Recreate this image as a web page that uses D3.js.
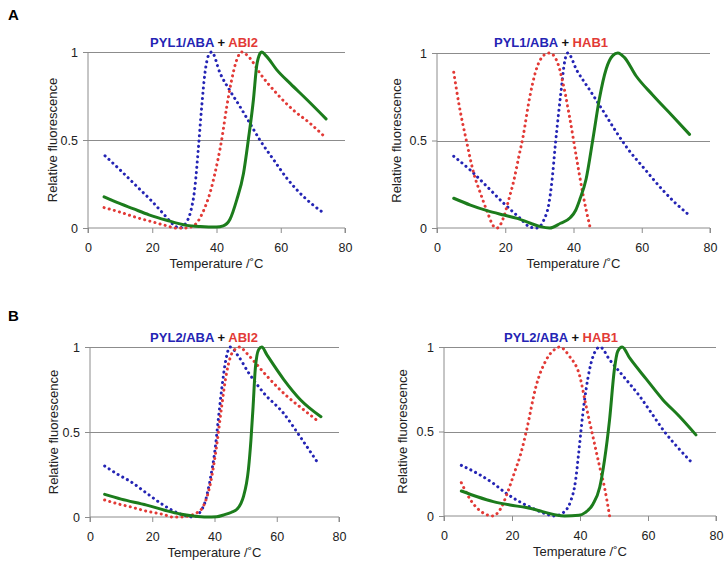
<!DOCTYPE html>
<html><head><meta charset="utf-8">
<script src="https://cdn.jsdelivr.net/npm/d3@7"></script>
<style>body{margin:0;background:#fff} svg text{font-family:"Liberation Sans",Arial,sans-serif}</style>
</head><body><svg id="c" width="726" height="564"></svg>
<script>
const xTicks = [0,20,40,60,80];
const yTicks = [0,0.5,1];
const yTickLabels = ["0","0.5","1"];
const xLabel = "Temperature /˚C";
const yLabel = "Relative fluorescence";

// Panel A left: PYL1/ABA + ABI2
const a1Blue = [[5.3,0.41],[10,0.33],[15,0.24],[20,0.15],[24,0.07],[26.5,0.02],[28.5,0],[30.5,0.03],[31.8,0.083],[33.3,0.235],[34.3,0.44],[35.4,0.69],[36.4,0.88],[37.5,0.98],[38.5,1.0],[41.1,0.88],[44.2,0.78],[47.3,0.69],[50.4,0.595],[53.5,0.5],[57.7,0.39],[61.8,0.285],[67,0.18],[70.1,0.13],[73.8,0.08]];
const a1Red = [[5,0.116],[10,0.09],[15,0.06],[20,0.035],[25,0.01],[27,0],[30.5,0],[32.5,0.01],[33.8,0.027],[35.5,0.08],[36.9,0.14],[38.3,0.22],[39.5,0.31],[41.6,0.5],[43.2,0.69],[44.7,0.84],[46.3,0.955],[47.8,1.0],[50.4,0.965],[53.5,0.88],[58.7,0.765],[63.9,0.67],[69.1,0.595],[73.6,0.52]];
const a1Green = [[5,0.177],[9,0.145],[14,0.11],[19,0.075],[24.5,0.044],[30.7,0.015],[35,0.008],[40,0.005],[42.1,0.012],[44.2,0.05],[46.3,0.16],[48.4,0.31],[49.9,0.5],[51.5,0.73],[52.5,0.92],[53.5,0.99],[54,1.0],[55.6,0.975],[58.7,0.9],[63,0.82],[68.1,0.73],[74.1,0.62]];

// Panel A right: PYL1/ABA + HAB1
const a2Blue = [[4.9,0.41],[9.8,0.33],[14.7,0.236],[19.6,0.14],[24.4,0.055],[27.4,0.004],[29.3,0],[31.3,0.046],[32.8,0.14],[33.7,0.27],[34.7,0.48],[35.6,0.65],[36.4,0.79],[37.4,0.95],[38.3,1.0],[41,0.9],[44.7,0.79],[48,0.69],[52.5,0.55],[56,0.45],[60.3,0.35],[66,0.22],[70,0.14],[73.5,0.08]];
const a2Red = [[4.9,0.89],[6.5,0.7],[8.6,0.5],[10.8,0.31],[12.7,0.2],[14.7,0.094],[16.6,0.01],[17.6,0],[19.6,0.065],[21,0.16],[22.5,0.27],[24,0.41],[25.2,0.52],[27.1,0.74],[29,0.9],[31.5,0.99],[33,1.0],[35,0.96],[36.9,0.83],[38.8,0.64],[40.8,0.41],[42.7,0.2],[44.9,0]];
const a2Green = [[4.9,0.17],[9.8,0.131],[14.7,0.099],[19.6,0.074],[23.5,0.055],[27.4,0.027],[30.3,0.008],[33,0],[36.2,0.027],[39.1,0.06],[40.6,0.1],[41.8,0.16],[43.7,0.28],[45.7,0.51],[47.6,0.74],[49.6,0.91],[51.5,0.985],[53,1.0],[54.9,0.975],[58.3,0.87],[63.2,0.76],[69,0.64],[74,0.535]];

// Panel B left: PYL2/ABA + ABI2
const b1Blue = [[4.7,0.30],[9,0.25],[12.9,0.21],[18.2,0.14],[23.6,0.07],[28.9,0.018],[33.2,0],[35.4,0.03],[37,0.09],[38.6,0.22],[40.2,0.4],[41.2,0.57],[42.3,0.75],[43.7,0.93],[45,1.0],[47.7,0.945],[50.9,0.85],[55.8,0.73],[62.2,0.61],[67.6,0.47],[73.5,0.31]];
const b1Red = [[4.7,0.10],[9,0.077],[12.9,0.06],[18,0.035],[23.6,0.015],[26.5,0],[29.5,0],[32,0.008],[34.3,0.024],[36.4,0.063],[38.6,0.19],[40.7,0.42],[42.3,0.65],[43.9,0.85],[46,0.975],[48.2,1.0],[50,0.97],[52.5,0.92],[56.8,0.83],[63.3,0.71],[68,0.64],[73.5,0.56]];
const b1Green = [[4.7,0.133],[10,0.105],[18.2,0.07],[24,0.04],[28.9,0.018],[33.2,0.006],[37.5,0],[40.7,0.002],[42.9,0.012],[45.5,0.028],[47.2,0.045],[48.5,0.08],[49.3,0.12],[50.9,0.28],[51.7,0.45],[52.4,0.65],[53.1,0.87],[54.2,0.985],[55.2,1.0],[56.8,0.955],[62.2,0.81],[67.6,0.69],[74.2,0.59]];

// Panel B right: PYL2/ABA + HAB1
const b2Blue = [[5.1,0.30],[10.6,0.243],[14.5,0.193],[18.3,0.134],[22.2,0.085],[26.1,0.045],[30,0.012],[32.5,0],[34.8,0.016],[37.2,0.085],[38.7,0.21],[39.6,0.37],[40.8,0.6],[42.8,0.865],[44.8,0.985],[45.9,1.0],[48.7,0.925],[52.6,0.83],[57.5,0.71],[61,0.61],[64.8,0.5],[69,0.4],[73.2,0.31]];
const b2Red = [[5.1,0.197],[7.8,0.095],[9.8,0.045],[11.8,0.015],[14.2,0],[16.7,0.045],[18.6,0.134],[20.6,0.25],[22.6,0.37],[24.2,0.5],[27.1,0.77],[30.1,0.925],[32.5,0.985],[34,1.0],[36.9,0.945],[39.9,0.83],[41.8,0.65],[43.8,0.47],[45.8,0.29],[47.2,0.17],[48.7,0]];
const b2Green = [[5.1,0.148],[9.8,0.114],[14.5,0.085],[19.4,0.065],[24.2,0.05],[29,0.026],[32.9,0.006],[35.5,0],[39.7,0.004],[41.5,0.02],[43.8,0.07],[45.8,0.17],[47.2,0.33],[48.7,0.57],[50.1,0.865],[51.1,0.975],[52.4,1.0],[54.6,0.935],[59.5,0.81],[64.3,0.69],[69.2,0.59],[74.1,0.48]];

const titlesLeft = ["PYL1/ABA","PYL1/ABA","PYL2/ABA","PYL2/ABA"];
const titlesRight = ["ABI2","HAB1","ABI2","HAB1"];
const panelLetters = ["A","B"];

const BLUE = "#2424b4", RED = "#e23a36", GREEN = "#1c7c1c", AXIS = "#8c8c8c";
const FONT = "'Liberation Sans', Arial, sans-serif";

const panels = [
  {x0:88, x1:345, y0:228, y1:52, tx:204, ty:47, yl:52, series:[a1Blue,a1Red,a1Green]},
  {x0:437, x1:710, y0:228, y1:53, tx:551, ty:47, yl:396, series:[a2Blue,a2Red,a2Green]},
  {x0:90, x1:339, y0:517, y1:347, tx:204, ty:342, yl:53, series:[b1Blue,b1Red,b1Green]},
  {x0:444, x1:716, y0:516, y1:347, tx:561, ty:342, yl:402, series:[b2Blue,b2Red,b2Green]}
];

const svg = d3.select("#c");

svg.append("text").attr("x",8).attr("y",20).attr("font-size",15).attr("font-weight","bold").attr("font-family",FONT).text(panelLetters[0]);
svg.append("text").attr("x",8).attr("y",321).attr("font-size",15).attr("font-weight","bold").attr("font-family",FONT).text(panelLetters[1]);

panels.forEach((p,i)=>{
  const x = d3.scaleLinear().domain([0,80]).range([p.x0,p.x1]);
  const y = d3.scaleLinear().domain([0,1]).range([p.y0,p.y1]);
  const g = svg.append("g");
  g.selectAll(".grid").data(yTicks.filter(v=>v>0)).join("line")
    .attr("x1",p.x0).attr("x2",p.x1).attr("y1",d=>Math.round(y(d))+0.5).attr("y2",d=>Math.round(y(d))+0.5)
    .attr("stroke",AXIS).attr("stroke-width",1);
  const xa = g.append("g").attr("transform",`translate(0,${p.y0})`)
    .call(d3.axisBottom(x).tickValues(xTicks).tickSize(5).tickPadding(10).tickFormat(d3.format("d")));
  xa.attr("font-family",FONT);
  xa.select(".domain").attr("stroke",AXIS).attr("d",`M${p.x0},5V0H${p.x1}V5`);
  xa.selectAll(".tick line").attr("stroke",AXIS);
  xa.selectAll("text").attr("font-size",12.5).attr("fill","#222").attr("font-family",FONT);
  const ya = g.append("g").attr("transform",`translate(${p.x0},0)`)
    .call(d3.axisLeft(y).tickValues(yTicks).tickSize(5).tickPadding(5).tickFormat((d,k)=>yTickLabels[k]));
  ya.attr("font-family",FONT);
  ya.select(".domain").attr("stroke",AXIS).attr("d",`M0,${p.y0}V${p.y1}`);
  ya.selectAll(".tick line").attr("stroke",AXIS);
  ya.selectAll("text").attr("font-size",12.5).attr("fill","#222").attr("font-family",FONT);
  g.append("text").attr("x",(p.x0+p.x1)/2).attr("y",p.y0+40).attr("text-anchor","middle")
    .attr("font-size",13).attr("fill","#222").attr("font-family",FONT).text(xLabel);
  g.append("text").attr("transform",`translate(${p.yl+5},${(p.y0+p.y1)/2}) rotate(-90)`)
    .attr("text-anchor","middle").attr("font-size",13).attr("fill","#222").attr("font-family",FONT).text(yLabel);
  const t = g.append("text").attr("x",p.tx).attr("y",p.ty).attr("text-anchor","middle")
    .attr("font-size",13).attr("font-weight","bold").attr("font-family",FONT);
  t.append("tspan").attr("fill",BLUE).text(titlesLeft[i]);
  t.append("tspan").attr("fill","#111").text(" + ");
  t.append("tspan").attr("fill",RED).text(titlesRight[i]);
  const line = d3.line().x(d=>x(d[0])).y(d=>y(d[1])).curve(d3.curveMonotoneX);
  const styles = [
    {c:BLUE, w:3, dash:"0.1 5.2"},
    {c:RED, w:3, dash:"0.1 5.2"},
    {c:GREEN, w:3, dash:null}
  ];
  p.series.forEach((s,k)=>{
    const st = styles[k];
    g.append("path").datum(s).attr("d",line).attr("fill","none")
      .attr("stroke",st.c).attr("stroke-width",st.w).attr("stroke-linecap","round")
      .attr("stroke-linejoin","round").attr("stroke-dasharray",st.dash);
  });
});
</script></body></html>
